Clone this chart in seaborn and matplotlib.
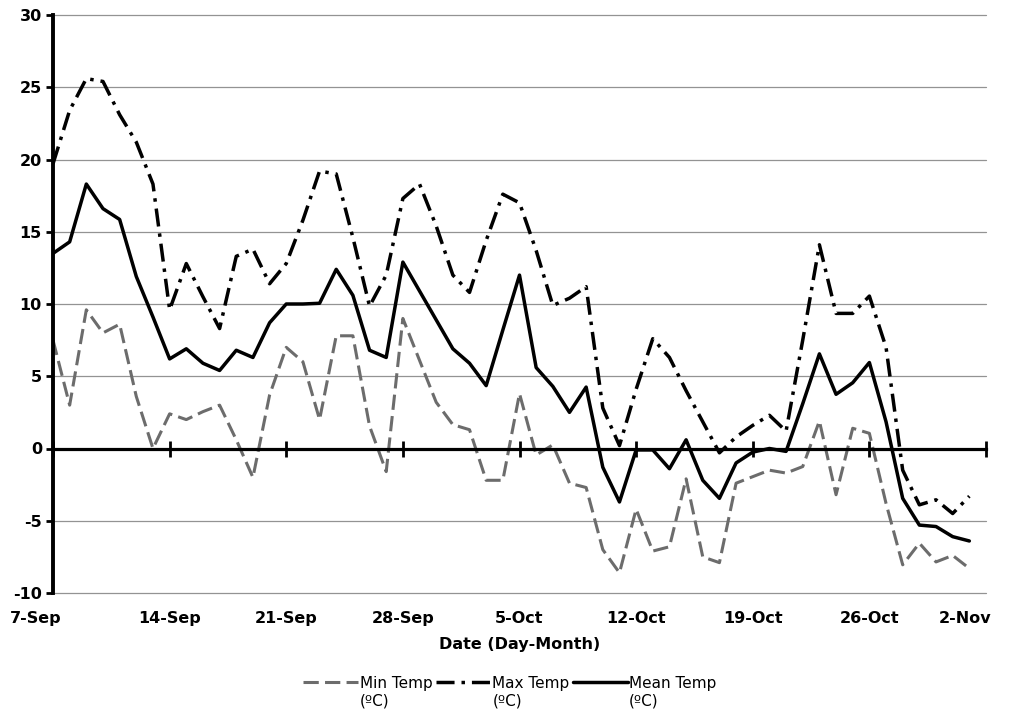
import matplotlib
matplotlib.use("Agg")
import matplotlib.pyplot as plt
import seaborn as sns
from matplotlib.lines import Line2D
from matplotlib.legend_handler import HandlerLine2D
from matplotlib.transforms import ScaledTranslation

# ---- data (days since 7-Sep) ----
days = list(range(56))
min_temp = [7.5, 3.0, 9.6, 8.0, 8.6, 3.6, 0.0, 2.4, 2.0, 2.55,
            3.0, 0.6, -2.0, 3.7, 7.0, 6.0, 2.0, 7.8, 7.8, 1.55,
            -1.6, 9.0, 6.1, 3.2, 1.65, 1.3, -2.2, -2.2, 3.8, -0.45,
            0.25, -2.4, -2.7, -7.0, -8.6, -4.2, -7.1, -6.8, -2.1, -7.5,
            -7.9, -2.4, -1.95, -1.5, -1.7, -1.25, 1.9, -3.2, 1.4, 1.05,
            -3.8, -8.05, -6.55, -7.85, -7.4, -8.3]
max_temp = [19.7, 23.4, 25.6, 25.4, 23.1, 21.2, 18.3, 9.6, 12.8, 10.5,
            8.3, 13.3, 13.8, 11.4, 12.8, 15.8, 19.2, 19.0, 14.6, 9.85,
            12.0, 17.3, 18.3, 15.4, 12.0, 10.8, 14.4, 17.6, 17.0, 13.7,
            9.9, 10.4, 11.2, 2.8, 0.2, 4.1, 7.6, 6.3, 4.0, 1.85,
            -0.3, 0.8, 1.6, 2.3, 1.2, 7.5, 14.1, 9.35, 9.35, 10.55,
            7.0, -1.5, -3.9, -3.55, -4.5, -3.3]
mean_temp = [13.5, 14.3, 18.3, 16.6, 15.85, 11.9, 9.1, 6.2, 6.9, 5.9,
             5.4, 6.8, 6.3, 8.7, 10.0, 10.0, 10.05, 12.4, 10.6, 6.8,
             6.3, 12.9, 10.9, 8.9, 6.9, 5.9, 4.35, 8.2, 12.0, 5.6,
             4.3, 2.5, 4.25, -1.3, -3.7, -0.1, -0.1, -1.4, 0.6, -2.2,
             -3.45, -1.0, -0.25, 0.0, -0.2, 3.1, 6.55, 3.75, 4.55, 5.95,
             1.85, -3.45, -5.3, -5.4, -6.1, -6.4]
tick_days = [0, 7, 14, 21, 28, 35, 42, 49, 56]
tick_labels = ["7-Sep", "14-Sep", "21-Sep", "28-Sep", "5-Oct", "12-Oct",
               "19-Oct", "26-Oct", "2-Nov"]
y_ticks = [-10, -5, 0, 5, 10, 15, 20, 25, 30]
series_labels = ["Min Temp\n(ºC)", "Max Temp\n(ºC)", "Mean Temp\n(ºC)"]

sns.set_theme(style="white")
plt.rcParams["font.family"] = ["DejaVu Sans"]
plt.rcParams["lines.scale_dashes"] = False
plt.rcParams["axes.unicode_minus"] = False
for k in ("text.color", "axes.labelcolor", "xtick.color", "ytick.color"):
    plt.rcParams[k] = "black"

W, H = 1015, 713
fig = plt.figure(figsize=(W / 100, H / 100), dpi=100)
ax = fig.add_axes([53 / W, 1 - 593 / H, 933 / W, 578 / H])

sns.lineplot(x=days, y=min_temp, ax=ax, color="#6c6c6c", lw=2.2,
             linestyle=(0, (11, 4.5)), label=series_labels[0])
sns.lineplot(x=days, y=max_temp, ax=ax, color="black", lw=2.5,
             linestyle=(0, (13, 5, 2.5, 5)), label=series_labels[1])
sns.lineplot(x=days, y=mean_temp, ax=ax, color="black", lw=2.5,
             label=series_labels[2])
if ax.get_legend() is not None:
    ax.get_legend().remove()

ax.set_xlim(0, 56)
ax.set_ylim(-10, 30)
ax.set_yticks(y_ticks)
ax.grid(axis="y", color="#939393", lw=0.9)
ax.grid(axis="x", visible=False)
ax.set_axisbelow(True)
for gl in ax.get_ygridlines():
    gl.set_clip_on(False)

for s in ("top", "right"):
    ax.spines[s].set_visible(False)
ax.spines["left"].set_linewidth(2.8)
ax.spines["left"].set_color("black")
ax.spines["bottom"].set_position(("data", 0))
ax.spines["bottom"].set_linewidth(2.3)
ax.spines["bottom"].set_color("black")

ax.set_xticks(tick_days)
ax.tick_params(axis="x", direction="inout", length=12, width=2,
               color="black", labelbottom=False, bottom=True)
ax.tick_params(axis="y", direction="out", length=5, width=2,
               color="black", labelsize=11.5, pad=3, left=True,
               labelcolor="black")
for t in ax.get_yticklabels():
    t.set_fontweight("bold")

sec = ax.secondary_xaxis("bottom")
sec.set_xticks(tick_days, labels=tick_labels)
sec.tick_params(length=0, pad=13, labelsize=11.5, labelcolor="black")
sec.spines["bottom"].set_visible(False)
for t in sec.get_xticklabels():
    t.set_fontweight("bold")
labs = sec.get_xticklabels()
labs[0].set_transform(labs[0].get_transform() + ScaledTranslation(-0.17, 0, fig.dpi_scale_trans))
labs[-1].set_transform(labs[-1].get_transform() + ScaledTranslation(-0.21, 0, fig.dpi_scale_trans))
sec.set_xlabel("Date (Day-Month)", fontweight="bold", fontsize=11.5,
               labelpad=8, color="black")


class UpHandler(HandlerLine2D):
    def create_artists(self, legend, orig_handle, xdescent, ydescent,
                       width, height, fontsize, trans):
        return super().create_artists(legend, orig_handle, xdescent,
                                      ydescent - 1.35 * fontsize, width,
                                      height, fontsize, trans)


handles, labels = ax.get_legend_handles_labels()
leg = fig.legend(handles, labels, loc="center", bbox_to_anchor=(510 / W, 1 - 692 / H),
                 ncol=3, frameon=False, fontsize=11, handlelength=3.6,
                 handletextpad=0.1, columnspacing=0.2,
                 handler_map={Line2D: UpHandler()})
for t in leg.get_texts():
    t.set_color("black")

fig.savefig("out.png", dpi=100, facecolor="white")
